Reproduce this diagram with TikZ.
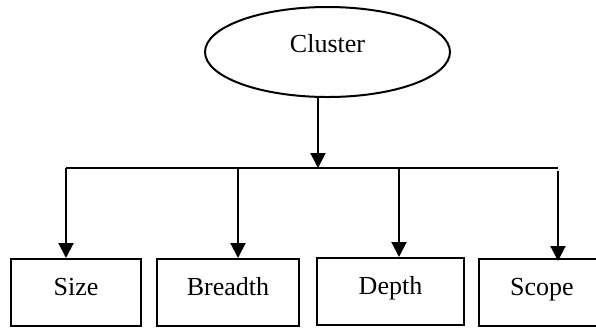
\documentclass[tikz,border=0pt]{standalone}
\usepackage{fontspec}
\setmainfont{Liberation Serif}
\usetikzlibrary{shapes.geometric,arrows.meta}
\tikzset{
  every node/.style={font=\fontsize{13pt}{15pt}\selectfont},
  leaf/.style={draw, line width=1pt, rectangle, inner sep=0pt,
    minimum height=33.5pt, text height=0.66em, text depth=0.35em},
  root/.style={draw, line width=1pt, ellipse, inner sep=0pt,
    minimum width=122.5pt, minimum height=45pt, text height=0.66em, text depth=0.58em},
  link/.style={line width=1pt},
  arr/.style={line width=1pt, -{Triangle[length=7.5pt,width=7.5pt]}}
}
\begin{document}
\begin{tikzpicture}[x=0.5pt,y=-0.5pt]
  \useasboundingbox (0,0) rectangle (596,329);
  % root
  \node[root] (cluster) at (327.5,52) {Cluster};
  % leaves
  \node[leaf, minimum width=65pt]   (size)    at (76,292.5)   {Size};
  \node[leaf, minimum width=71pt]   (breadth) at (228,292.5)  {Breadth};
  \node[leaf, minimum width=73.5pt] (depth)   at (390.5,291.5) {Depth};
  \node[leaf, minimum width=63pt]   (scope)   at (542,292.5)  {Scope};
  % branching bar
  \coordinate (hub) at (318,168);
  \coordinate (d1) at (66,168);
  \coordinate (d2) at (238,168);
  \coordinate (d3) at (399,168);
  \coordinate (d4) at (558,168);
  \coordinate (d4s) at (558,171);
  \draw[arr] (cluster.south -| hub) -- (hub);
  \draw[link] (d1) -- (d4);
  \draw[arr] (d1) -- (d1 |- size.north);
  \draw[arr] (d2) -- (d2 |- breadth.north);
  \draw[arr] (d3) -- (d3 |- depth.north);
  \draw[arr] (d4s) -- ([yshift=-1.5pt]d4s |- scope.north);
\end{tikzpicture}
\end{document}
